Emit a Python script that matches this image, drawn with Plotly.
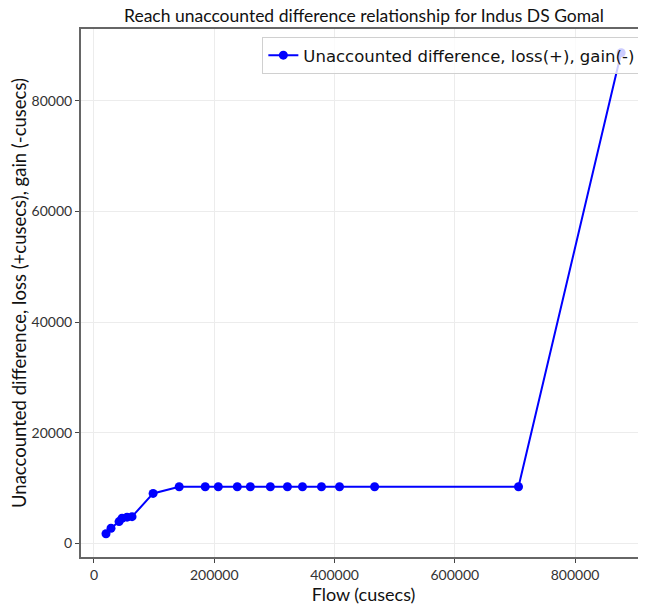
import plotly.graph_objects as go

# === data ===
flow = [20000, 28300, 41700, 46700, 55000, 63300, 98300, 141700, 185000, 206700,
        238300, 260000, 293300, 321700, 346700, 378300, 408300, 466700, 706000, 876700]
unaccounted = [1700, 2700, 3900, 4500, 4700, 4800, 9000, 10200, 10200, 10200,
               10200, 10200, 10200, 10200, 10200, 10200, 10200, 10200, 10200, 88700]

x_ticks = [0, 200000, 400000, 600000, 800000]
y_ticks = [0, 20000, 40000, 60000, 80000]

title_text = "Reach unaccounted difference relationship for Indus DS Gomal"
series_name = "Unaccounted difference, loss(+), gain(-)"

fig = go.Figure()

fig.add_trace(go.Scatter(
    x=flow,
    y=unaccounted,
    mode="lines+markers",
    name=series_name,
    line=dict(color="#0000ff", width=2),
    marker=dict(color="#0000ff", size=9),
))

axis_common = dict(
    showline=True,
    linecolor="#666666",
    linewidth=2,
    mirror=True,
    showgrid=True,
    gridcolor="#ececec",
    gridwidth=1,
    zeroline=False,
    ticks="outside",
    ticklen=4,
    tickcolor="#444444",
    automargin=False,
    tickfont=dict(family="Lato, Open Sans, sans-serif", size=14, color="#333333"),
)

# the page body keeps its default 8px margin, so the figure is 8px smaller
fig.update_layout(
    width=638,
    height=597,
    paper_bgcolor="white",
    plot_bgcolor="white",
    margin=dict(l=73, r=0, t=21, b=48, autoexpand=False),
    title=dict(
        text=title_text,
        x=0.558, xanchor="center",
        y=0.986, yanchor="middle",
        automargin=False,
        font=dict(family="Lato, Open Sans, sans-serif", size=17.5, color="#111111"),
    ),
    xaxis=dict(
        axis_common,
        range=[-21600, 918000],
        tickvals=x_ticks,
        ticktext=[str(v) for v in x_ticks],
        title=dict(text="Flow (cusecs)", standoff=2,
                   font=dict(family="Lato, Open Sans, sans-serif", size=18, color="#111111")),
    ),
    yaxis=dict(
        axis_common,
        range=[-2500, 93000],
        tickvals=y_ticks,
        ticktext=[str(v) for v in y_ticks],
        title=dict(text="Unaccounted difference, loss (+cusecs), gain (-cusecs)", standoff=6,
                   font=dict(family="Lato, Open Sans, sans-serif", size=18.5, color="#111111")),
    ),
    legend=dict(
        x=0.99, xanchor="right",
        y=0.985, yanchor="top",
        bgcolor="rgba(255,255,255,0.8)",
        bordercolor="#d0d0d0",
        borderwidth=1,
        font=dict(family="DejaVu Sans, sans-serif", size=16.5, color="#111111"),
    ),
    showlegend=True,
)

fig.write_html("out.html")
